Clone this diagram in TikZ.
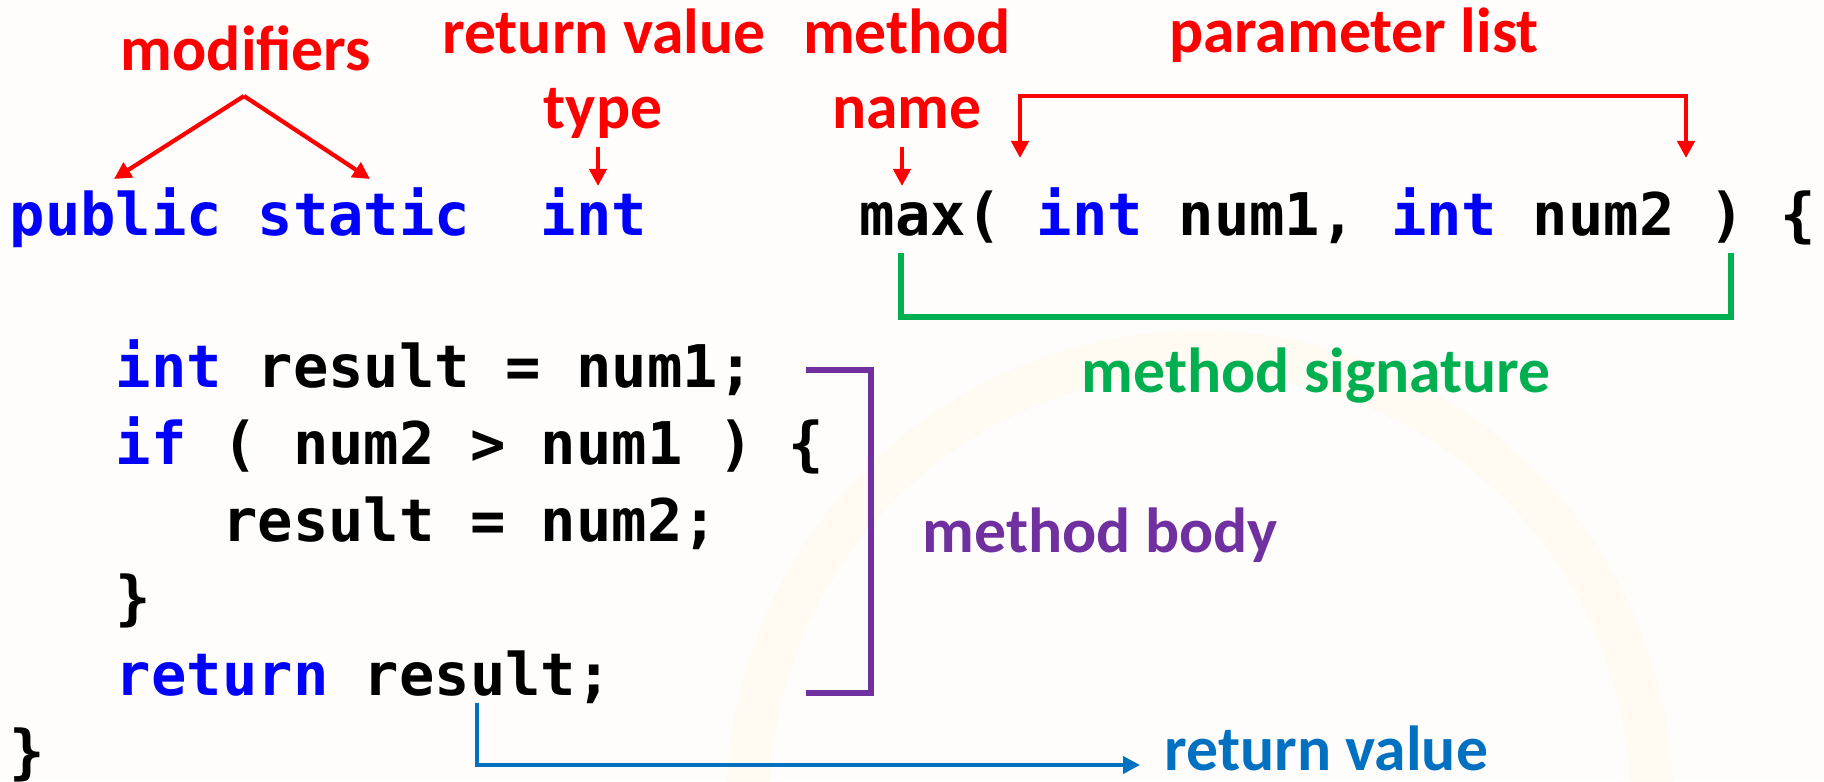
\documentclass[tikz,border=0pt]{standalone}
\usepackage{fontspec}
\newfontfamily\codefont{DejaVu Sans Mono}
\newfontfamily\labfont{Carlito}
\usetikzlibrary{arrows.meta}
\definecolor{kw}{RGB}{0,0,255}
\definecolor{lred}{RGB}{255,0,0}
\definecolor{lgreen}{RGB}{0,176,80}
\definecolor{lpurple}{RGB}{112,48,160}
\definecolor{lblue}{RGB}{0,112,192}
\definecolor{bgc}{RGB}{254,253,251}
\definecolor{ringc}{RGB}{255,250,242}
\begin{document}
\begin{tikzpicture}[x=0.01cm,y=-0.01cm,
  code/.style={anchor=base west, inner sep=0pt,
    font=\codefont\bfseries\fontsize{16.73pt}{20pt}\selectfont\frenchspacing},
  lab/.style={anchor=base, inner sep=0pt,
    font=\labfont\bfseries\fontsize{18.1pt}{22pt}\selectfont},
  tip/.style={-{Triangle[length=0.17cm,width=0.17cm]}},
  redarrow/.style={draw=lred, line width=1.2pt, tip},
  bracketline/.style={line width=1.5pt, line cap=rect},
]
% canvas
\fill[bgc] (0,0) rectangle (1824,781);
\useasboundingbox (0,0) rectangle (1824,781);
% faint watermark ring
\begin{scope}
\clip (0,0) rectangle (1824,781);
\draw[ringc, line width=0.42cm] (1200,804) circle[radius=452];
\end{scope}

% code
\node[code] (l0) at (9,235) {{\color{kw}public~static~~int}~~~~~~max(~{\color{kw}int}~num1,~{\color{kw}int}~num2~)~\{};
\node[code] (l1) at (9,387) {~~~{\color{kw}int}~result~=~num1;};
\node[code] (l2) at (9,464) {~~~{\color{kw}if}~(~num2~>~num1~)~\{};
\node[code] (l3) at (9,541) {~~~~~~result~=~num2;};
\node[code] (l4) at (9,618) {~~~\}};
\node[code] (l5) at (9,695) {~~~{\color{kw}return}~result;};
\node[code] (l6) at (9,772) {\}};

% labels
\node[lab, text=lred] (mod) at (246,70) {modifiers};
\node[lab, text=lred] (rv) at (604,53) {return value};
\node[lab, text=lred] (ty) at (603,128) {type};
\node[lab, text=lred] (meth) at (907,53) {method};
\node[lab, text=lred] (nm) at (907,128) {name};
\node[lab, text=lred] (pl) at (1354,52) {parameter list};
\node[lab, text=lgreen] (sig) at (1316,392) {method signature};
\node[lab, anchor=base west, text=lpurple] (body) at (922,552) {method body};
\node[lab, anchor=base west, text=lblue] (ret) at (1164,770) {return value};

% connector end points
\coordinate (modapex) at (244,96);
\coordinate (pubtip) at (114,179);
\coordinate (stattip) at (370,179);
\coordinate (tytop) at (598,147);
\coordinate (tytip) at (598,186);
\coordinate (nmtop) at (902,147);
\coordinate (nmtip) at (902,186);
\coordinate (plL) at (1020,158);
\coordinate (plLt) at (1020,96);
\coordinate (plRt) at (1686,96);
\coordinate (plR) at (1686,158);
\coordinate (sgL) at (901,256);
\coordinate (sgLb) at (901,317);
\coordinate (sgRb) at (1731,317);
\coordinate (sgR) at (1731,256);
\coordinate (bdT) at (809,370);
\coordinate (bdTr) at (871,370);
\coordinate (bdBr) at (871,693);
\coordinate (bdB) at (809,693);
\coordinate (rvS) at (477,703);
\coordinate (rvC) at (477,765);
\coordinate (rvE) at (1140,765);

% connectors
\draw[redarrow] (modapex) -- (pubtip);
\draw[redarrow] (modapex) -- (stattip);
\draw[redarrow] (tytop) -- (tytip);
\draw[redarrow] (nmtop) -- (nmtip);
\draw[draw=lred, line width=1.4pt, {Triangle[length=0.17cm,width=0.17cm]}-{Triangle[length=0.17cm,width=0.17cm]}]
  (plL) -- (plLt) -- (plRt) -- (plR);
\draw[lgreen, bracketline] (sgL) -- (sgLb) -- (sgRb) -- (sgR);
\draw[lpurple, bracketline] (bdT) -- (bdTr) -- (bdBr) -- (bdB);
\draw[lblue, line width=1.1pt, tip] (rvS) -- (rvC) -- (rvE);
\end{tikzpicture}
\end{document}
